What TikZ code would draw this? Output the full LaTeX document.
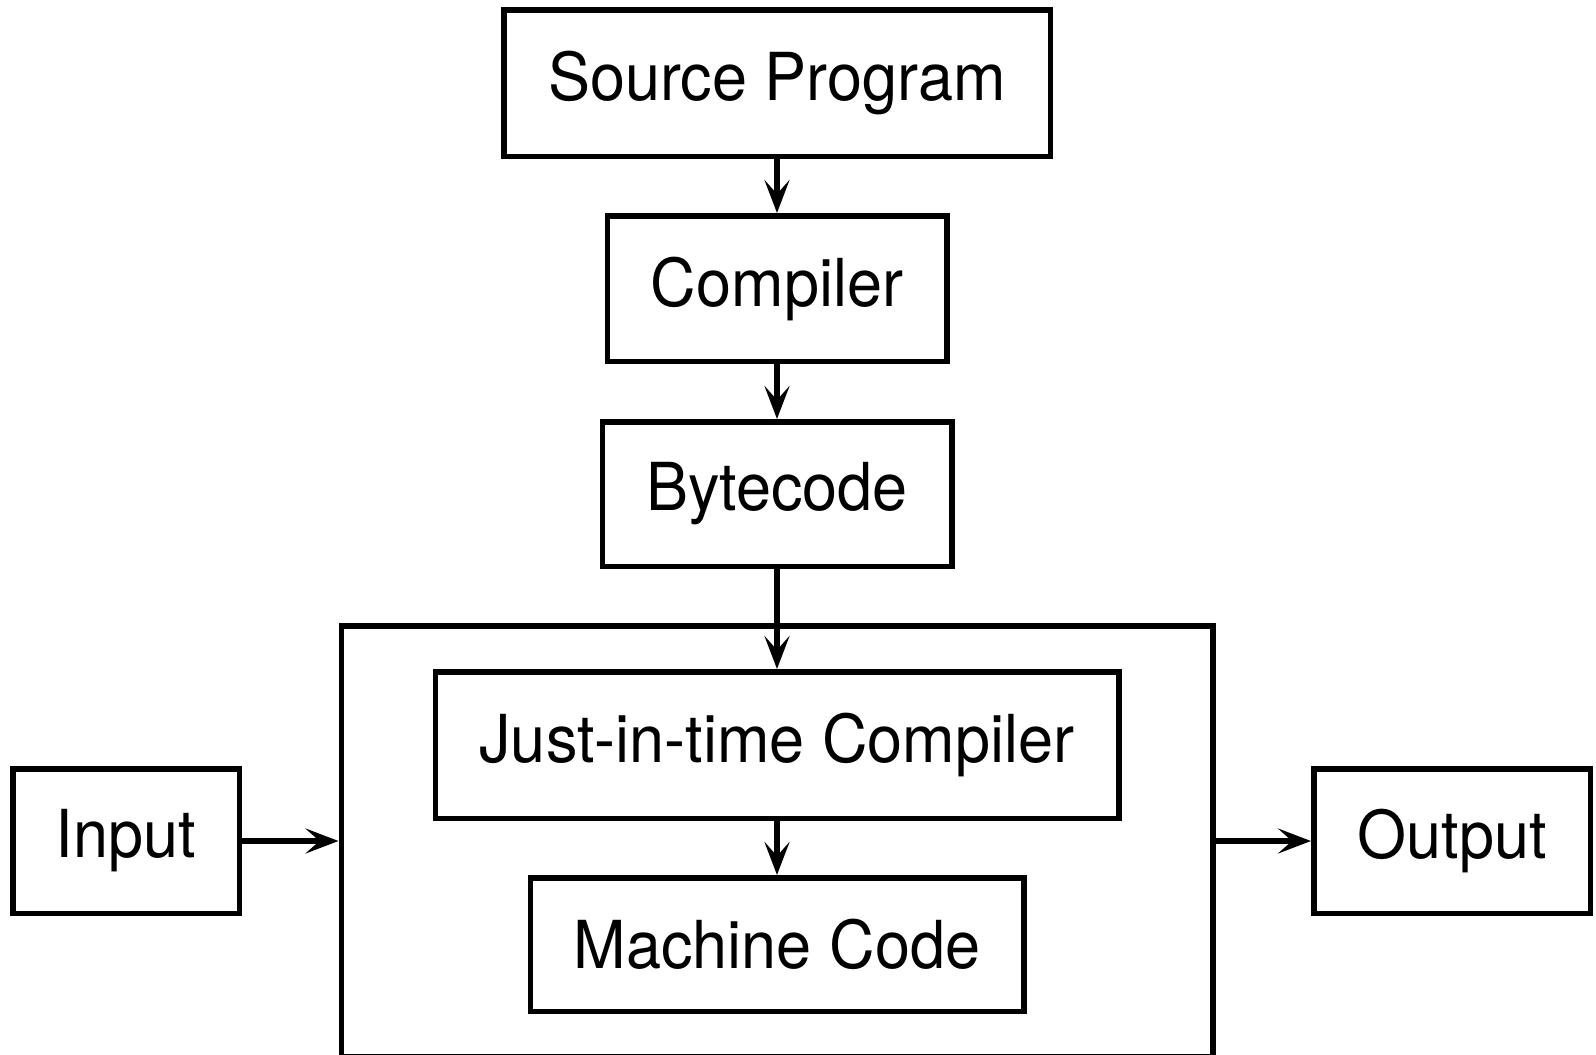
\documentclass[tikz,border=0pt]{standalone}
\usepackage{graphicx}
\usepackage{fontspec}
\setmainfont{TeX Gyre Heros}
\usetikzlibrary{arrows.meta}
\newcommand\vstretch[1]{\scalebox{1}[1.05]{#1}}
\begin{document}
\begin{tikzpicture}[x=1pt,y=-1pt,
  blk/.style={draw=black,line width=5.5pt,inner sep=0pt,
    font=\fontsize{63}{70}\selectfont},
  conn/.style={line width=5.5pt,-{Stealth[length=33pt,width=25pt,inset=14pt]}}]
\useasboundingbox (0,0) rectangle (1596,1055);
\node[blk,minimum width=871.5pt,minimum height=430.5pt] (big) at (777,841) {};
\node[blk,minimum width=546.5pt,minimum height=146.5pt] (src) at (777,83) {\vstretch{Source Program}};
\node[blk,minimum width=339.5pt,minimum height=145.5pt] (comp) at (777,288.5) {\vstretch{Compiler}};
\node[blk,minimum width=349.5pt,minimum height=144.5pt] (byte) at (777,494) {\vstretch{Bytecode}};
\node[blk,minimum width=683.5pt,minimum height=146.5pt] (jit) at (777,745) {\vstretch{Just-in-time Compiler}};
\node[blk,minimum width=493.5pt,minimum height=133.5pt] (mach) at (777,944.5) {\vstretch{Machine Code}};
\node[blk,minimum width=226.5pt,minimum height=144.5pt] (in) at (126,841) {\vstretch{Input}};
\node[blk,minimum width=276.5pt,minimum height=144.5pt] (out) at (1452,841) {\vstretch{Output}};
\draw[conn] (src) -- (comp);
\draw[conn] (comp) -- (byte);
\draw[conn] (byte) -- (jit);
\draw[conn] (jit) -- (mach);
\draw[conn] (in) -- (big);
\draw[conn] (big) -- (out);
\end{tikzpicture}
\end{document}
